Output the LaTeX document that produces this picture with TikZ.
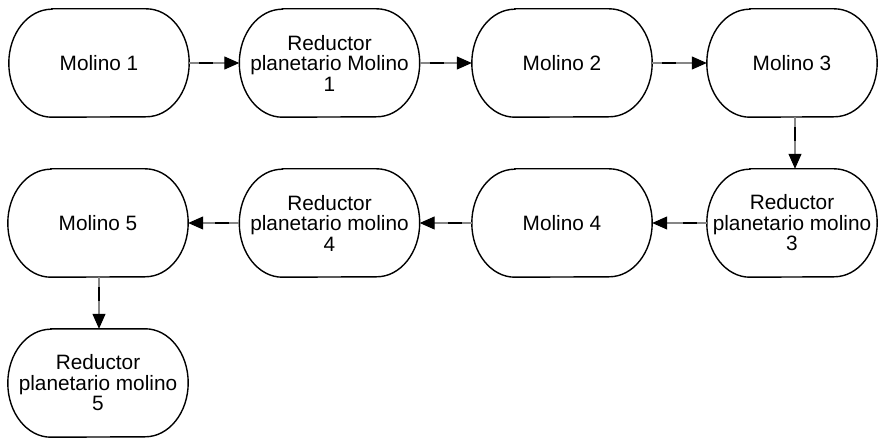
\documentclass[tikz,border=0pt]{standalone}
\usepackage{fontspec}
\setmainfont{Liberation Sans}
\usetikzlibrary{arrows.meta,calc}

\tikzset{
  x=1pt, y=-1pt,
  stage/.style={minimum width=180pt, minimum height=108pt, inner sep=0pt,
    align=center, font=\fontsize{20.8}{20.5}\selectfont},
  narrow/.style={minimum width=170pt},
  outline/.style={draw=black, line width=1.4pt},
  link/.style={draw=gray!95, line width=1.1pt,
    -{Triangle[length=15pt,width=13pt,color=black]}},
  linkmark/.style={draw=black, line width=1.6pt},
}

% stadium outline with elliptical ends around a named node
\newcommand{\stadium}[1]{%
  \draw[outline] ($(#1.north west)+(43,0)$) -- ($(#1.north east)+(-43,0)$)
    arc[start angle=90, end angle=-90, x radius=43pt, y radius=54pt]
    -- ($(#1.south west)+(43,0)$)
    arc[start angle=270, end angle=90, x radius=43pt, y radius=54pt] -- cycle;}

% connector: grey line, short black stroke near its start, black arrow tip
\newcommand{\flow}[2]{%
  \draw[link] (#1) -- (#2);
  \draw[linkmark] ($(#1)!10pt!(#2)$) -- ($(#1)!24pt!(#2)$);}

\begin{document}
\begin{tikzpicture}
\useasboundingbox (0,0) rectangle (878,438);

\node[stage] (m1) at (99,63) {Molino 1};
\node[stage] (r1) at (329.5,63) {Reductor\\planetario Molino\\1};
\node[stage] (m2) at (562,63) {Molino 2};
\node[stage,narrow] (m3) at (792,63) {Molino 3};

\node[stage] (m5) at (98,223) {Molino 5};
\node[stage] (r4) at (329.5,223) {Reductor\\planetario molino\\4};
\node[stage] (m4) at (562,223) {Molino 4};
\node[stage,narrow] (r3) at (792,223) {Reductor\\planetario molino\\3};

\node[stage] (r5) at (98,383) {Reductor\\planetario molino\\5};

\foreach \n in {m1,r1,m2,m3,m5,r4,m4,r3,r5} {\stadium{\n}}

\flow{m1.east}{r1.west}
\flow{r1.east}{m2.west}
\flow{m2.east}{m3.west}
\flow{$(m3.south)+(3,0)$}{$(r3.north)+(3,0)$}
\flow{r3.west}{m4.east}
\flow{m4.west}{r4.east}
\flow{r4.west}{m5.east}
\flow{$(m5.south)+(1,0)$}{$(r5.north)+(1,0)$}
\end{tikzpicture}
\end{document}
